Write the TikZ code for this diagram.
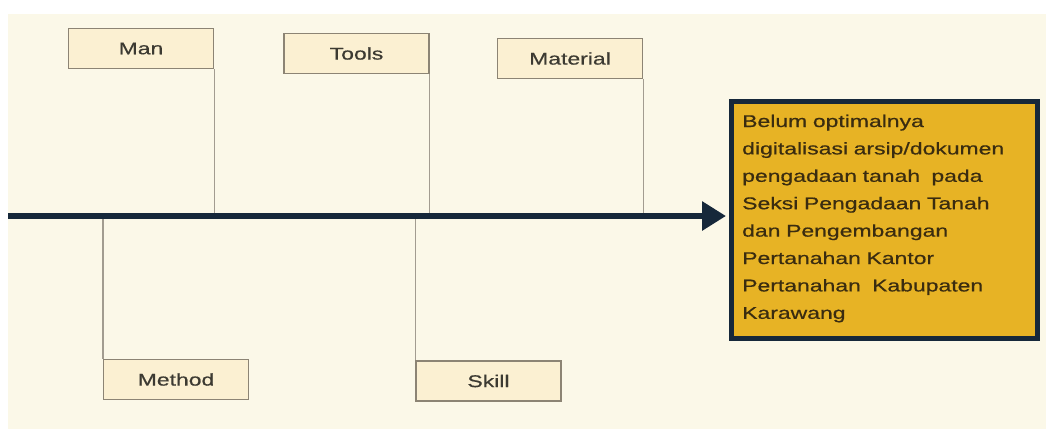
\documentclass[tikz,border=0pt]{standalone}
\usepackage{fontspec}
\setmainfont{Liberation Sans}
\newfontfamily\widesans[FakeStretch=1.35,FakeBold=0.6]{Liberation Sans}
\usetikzlibrary{arrows.meta}
\definecolor{paper}{HTML}{FBF8E8}
\definecolor{cause}{HTML}{FBF0D2}
\definecolor{causeline}{HTML}{8C8474}
\definecolor{bone}{HTML}{A29C90}
\definecolor{spine}{HTML}{16283A}
\definecolor{effect}{HTML}{E7B325}
\definecolor{labelink}{HTML}{3C3A32}
\definecolor{effectink}{HTML}{3A2C10}
\tikzset{
  causebox/.style={draw=causeline, line width=1.1pt, fill=cause, minimum width=145pt,
    minimum height=40pt, inner sep=0pt, font=\widesans\fontsize{17}{19}\selectfont, text=labelink},
  bonelink/.style={draw=bone, line width=1.1pt},
  effectbox/.style={draw=spine, line width=4.5pt, fill=effect, anchor=north west,
    minimum width=306pt, minimum height=237pt, inner sep=0pt},
}
\begin{document}
\begin{tikzpicture}[x=1pt,y=-1pt]
  \fill[white] (0,0) rectangle (1046,429);
  \fill[paper] (8,14) rectangle (1046,429);
  \useasboundingbox (0,0) rectangle (1046,429);

  % causes above and below the spine
  \node[causebox] (man) at (141,48.5) {Man};
  \node[causebox] (tools) at (356.5,53.5) {Tools};
  \node[causebox] (material) at (570,58.5) {Material};
  \node[causebox] (method) at (176,379.5) {Method};
  \node[causebox] (skill) at (488.5,381) {Skill};

  % effect box
  \node[effectbox] (effect) at (729,99) {};
  \node[anchor=north west, align=left, text width=295pt, inner sep=0pt,
        font=\widesans\fontsize{17}{27.4}\selectfont, text=effectink]
        (effecttext) at (742,114.5)
        {Belum optimalnya\\digitalisasi arsip/dokumen\\pengadaan tanah\ \ pada\\Seksi Pengadaan Tanah\\dan Pengembangan\\Pertanahan Kantor\\Pertanahan\ \ Kabupaten\\Karawang};

  % spine
  \coordinate (tail) at (8,216);
  \coordinate (head) at (726,216);
  \coordinate (jman) at (man.south east |- tail);
  \coordinate (jtools) at (tools.south east |- tail);
  \coordinate (jmaterial) at (material.south east |- tail);
  \coordinate (jmethod) at (method.north west |- tail);
  \coordinate (jskill) at (skill.north west |- tail);

  \draw[bonelink] (man.south east) -- (jman);
  \draw[bonelink] (tools.south east) -- (jtools);
  \draw[bonelink] (material.south east) -- (jmaterial);
  \draw[bonelink] (method.north west) -- (jmethod);
  \draw[bonelink] (skill.north west) -- (jskill);

  \draw[spine, line width=6.5pt, -{Triangle[length=24pt, width=28pt]}] (tail) -- (head);
\end{tikzpicture}
\end{document}
